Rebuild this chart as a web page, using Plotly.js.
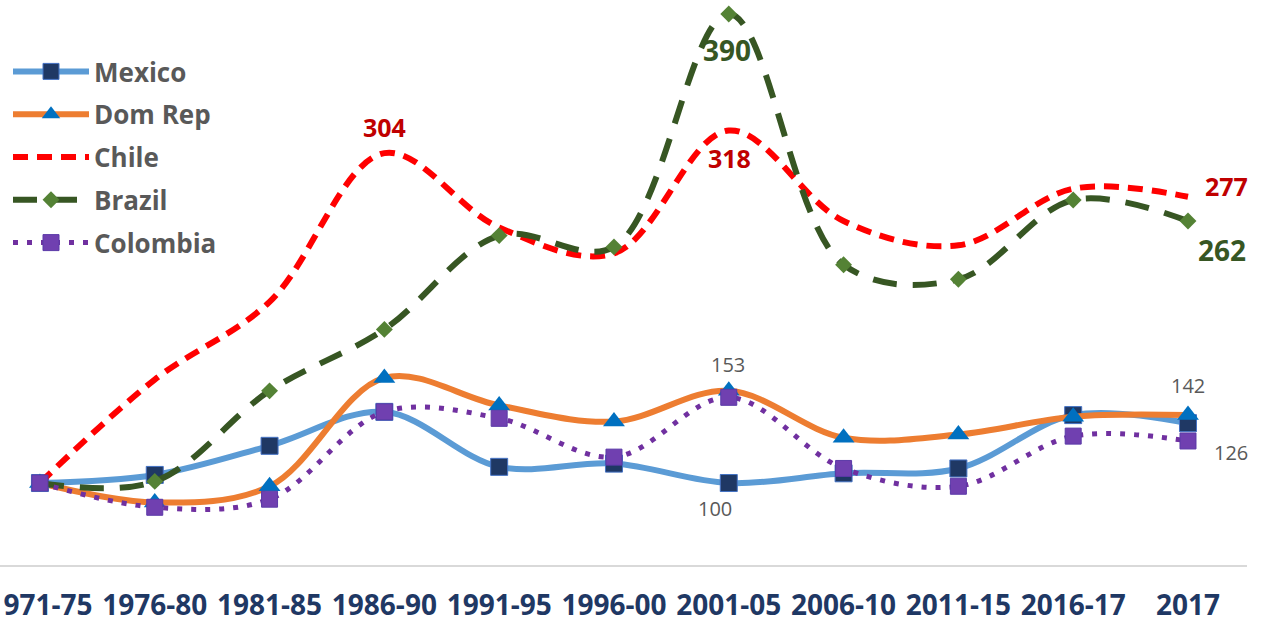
<!DOCTYPE html>
<html>
<head>
<meta charset="utf-8">
<script src="https://cdn.plot.ly/plotly-3.0.1.min.js"></script>
<style>html,body{margin:0;padding:0;background:#fff;}#chart{width:1268px;height:619px;}</style>
</head>
<body>
<div id="chart"></div>
<script>
// Categories (periods)
const periods = ["1971-75","1976-80","1981-85","1986-90","1991-95","1996-00","2001-05","2006-10","2011-15","2016-17","2017"];

// Series values (index, 1971-75 = 100)
const mexico   = [100, 105, 123, 144, 110, 112, 100, 106, 109, 142, 137];
const domRep   = [100,  88,  98, 165, 148, 138, 157, 128, 130, 141, 142];
const chile    = [100, 164, 212, 304, 258, 242, 318, 262, 247, 282, 277];
const brazil   = [100, 101, 157, 195, 253, 246, 390, 235, 226, 275, 262];
const colombia = [100,  85,  90, 144, 140, 116, 153, 109,  98, 129, 126];

const seriesNames = ["Mexico","Dom Rep","Chile","Brazil","Colombia"];

const traces = [
  {name: seriesNames[0], x: periods, y: mexico, type: "scatter", mode: "lines+markers",
   line: {color: "#5b9bd5", width: 6, shape: "spline", smoothing: 1},
   marker: {symbol: "square", size: 17, color: "#1f3864", line: {color: "#4472c4", width: 1}}},
  {name: seriesNames[1], x: periods, y: domRep, type: "scatter", mode: "lines+markers",
   line: {color: "#ed7d31", width: 6, shape: "spline", smoothing: 1},
   marker: {symbol: "triangle-up", size: 19, color: "#0070c0"}},
  {name: seriesNames[2], x: periods, y: chile, type: "scatter", mode: "lines",
   line: {color: "#ff0000", width: 6, shape: "spline", smoothing: 1, dash: "15px,9px"}},
  {name: seriesNames[3], x: periods, y: brazil, type: "scatter", mode: "lines+markers",
   line: {color: "#375623", width: 6, shape: "spline", smoothing: 1, dash: "24px,16px"},
   marker: {symbol: "diamond", size: 13, color: "#548235"}},
  {name: seriesNames[4], x: periods, y: colombia, type: "scatter", mode: "lines+markers",
   line: {color: "#7030a0", width: 5, shape: "spline", smoothing: 1, dash: "5px,9px"},
   marker: {symbol: "square", size: 16, color: "#7040b0", line: {color: "#5b3aa8", width: 1}}}
];

function lab(values, idx, text, xshift, yshift, font) {
  return {x: idx, y: values[idx], xref: "x", yref: "y", text: text,
          showarrow: false, xshift: xshift, yshift: yshift, font: font};
}
const redBold = {family: "Open Sans", size: 25, color: "#c00000", weight: 700};
const greenBold = {family: "Open Sans", size: 28, color: "#375623", weight: 700};
const grayReg = {family: "Open Sans", size: 20, color: "#595959"};

const annotations = [
  lab(chile, 3, "<b>" + chile[3] + "</b>", 0, 26, redBold),
  lab(chile, 6, "<b>" + chile[6] + "</b>", 1, -27, redBold),
  lab(brazil, 6, "<b>" + brazil[6] + "</b>", -2, -36, greenBold),
  lab(chile, 10, "<b>" + chile[10] + "</b>", 39, 11, redBold),
  lab(brazil, 10, "<b>" + brazil[10] + "</b>", 34, -29, greenBold),
  lab(colombia, 6, String(colombia[6]), -1, 33, grayReg),
  lab(mexico, 6, String(mexico[6]), -14, -25, grayReg),
  lab(domRep, 10, String(domRep[10]), 0, 30, grayReg),
  lab(colombia, 10, String(colombia[10]), 43, -12, grayReg)
];

const layout = {
  width: 1268, height: 619,
  paper_bgcolor: "#ffffff", plot_bgcolor: "#ffffff",
  margin: {l: 0, r: 21, t: 0, b: 54},
  showlegend: true,
  legend: {x: 8/1247, y: 1 - 48/565, xanchor: "left", yanchor: "top",
           font: {family: "Open Sans", size: 26, color: "#595959", weight: 700},
           itemwidth: 76, tracegroupgap: 6, bgcolor: "rgba(255,255,255,0)"},
  xaxis: {type: "category", categoryarray: periods, range: [-0.348, 10.514],
          showgrid: false, zeroline: false, showline: true, linecolor: "#d9d9d9", linewidth: 2,
          ticks: "", ticklabelstandoff: 14,
          tickfont: {family: "Open Sans", size: 28, color: "#1f3864", weight: 700}},
  yaxis: {range: [49.3, 398.7], showgrid: false, zeroline: false, showline: false,
          showticklabels: false, ticks: ""},
  annotations: annotations
};

traces.forEach((t, i) => { t.legendgroup = "g" + i; });

Plotly.newPlot("chart", traces, layout, {displayModeBar: false, staticPlot: true});
</script>
</body>
</html>
